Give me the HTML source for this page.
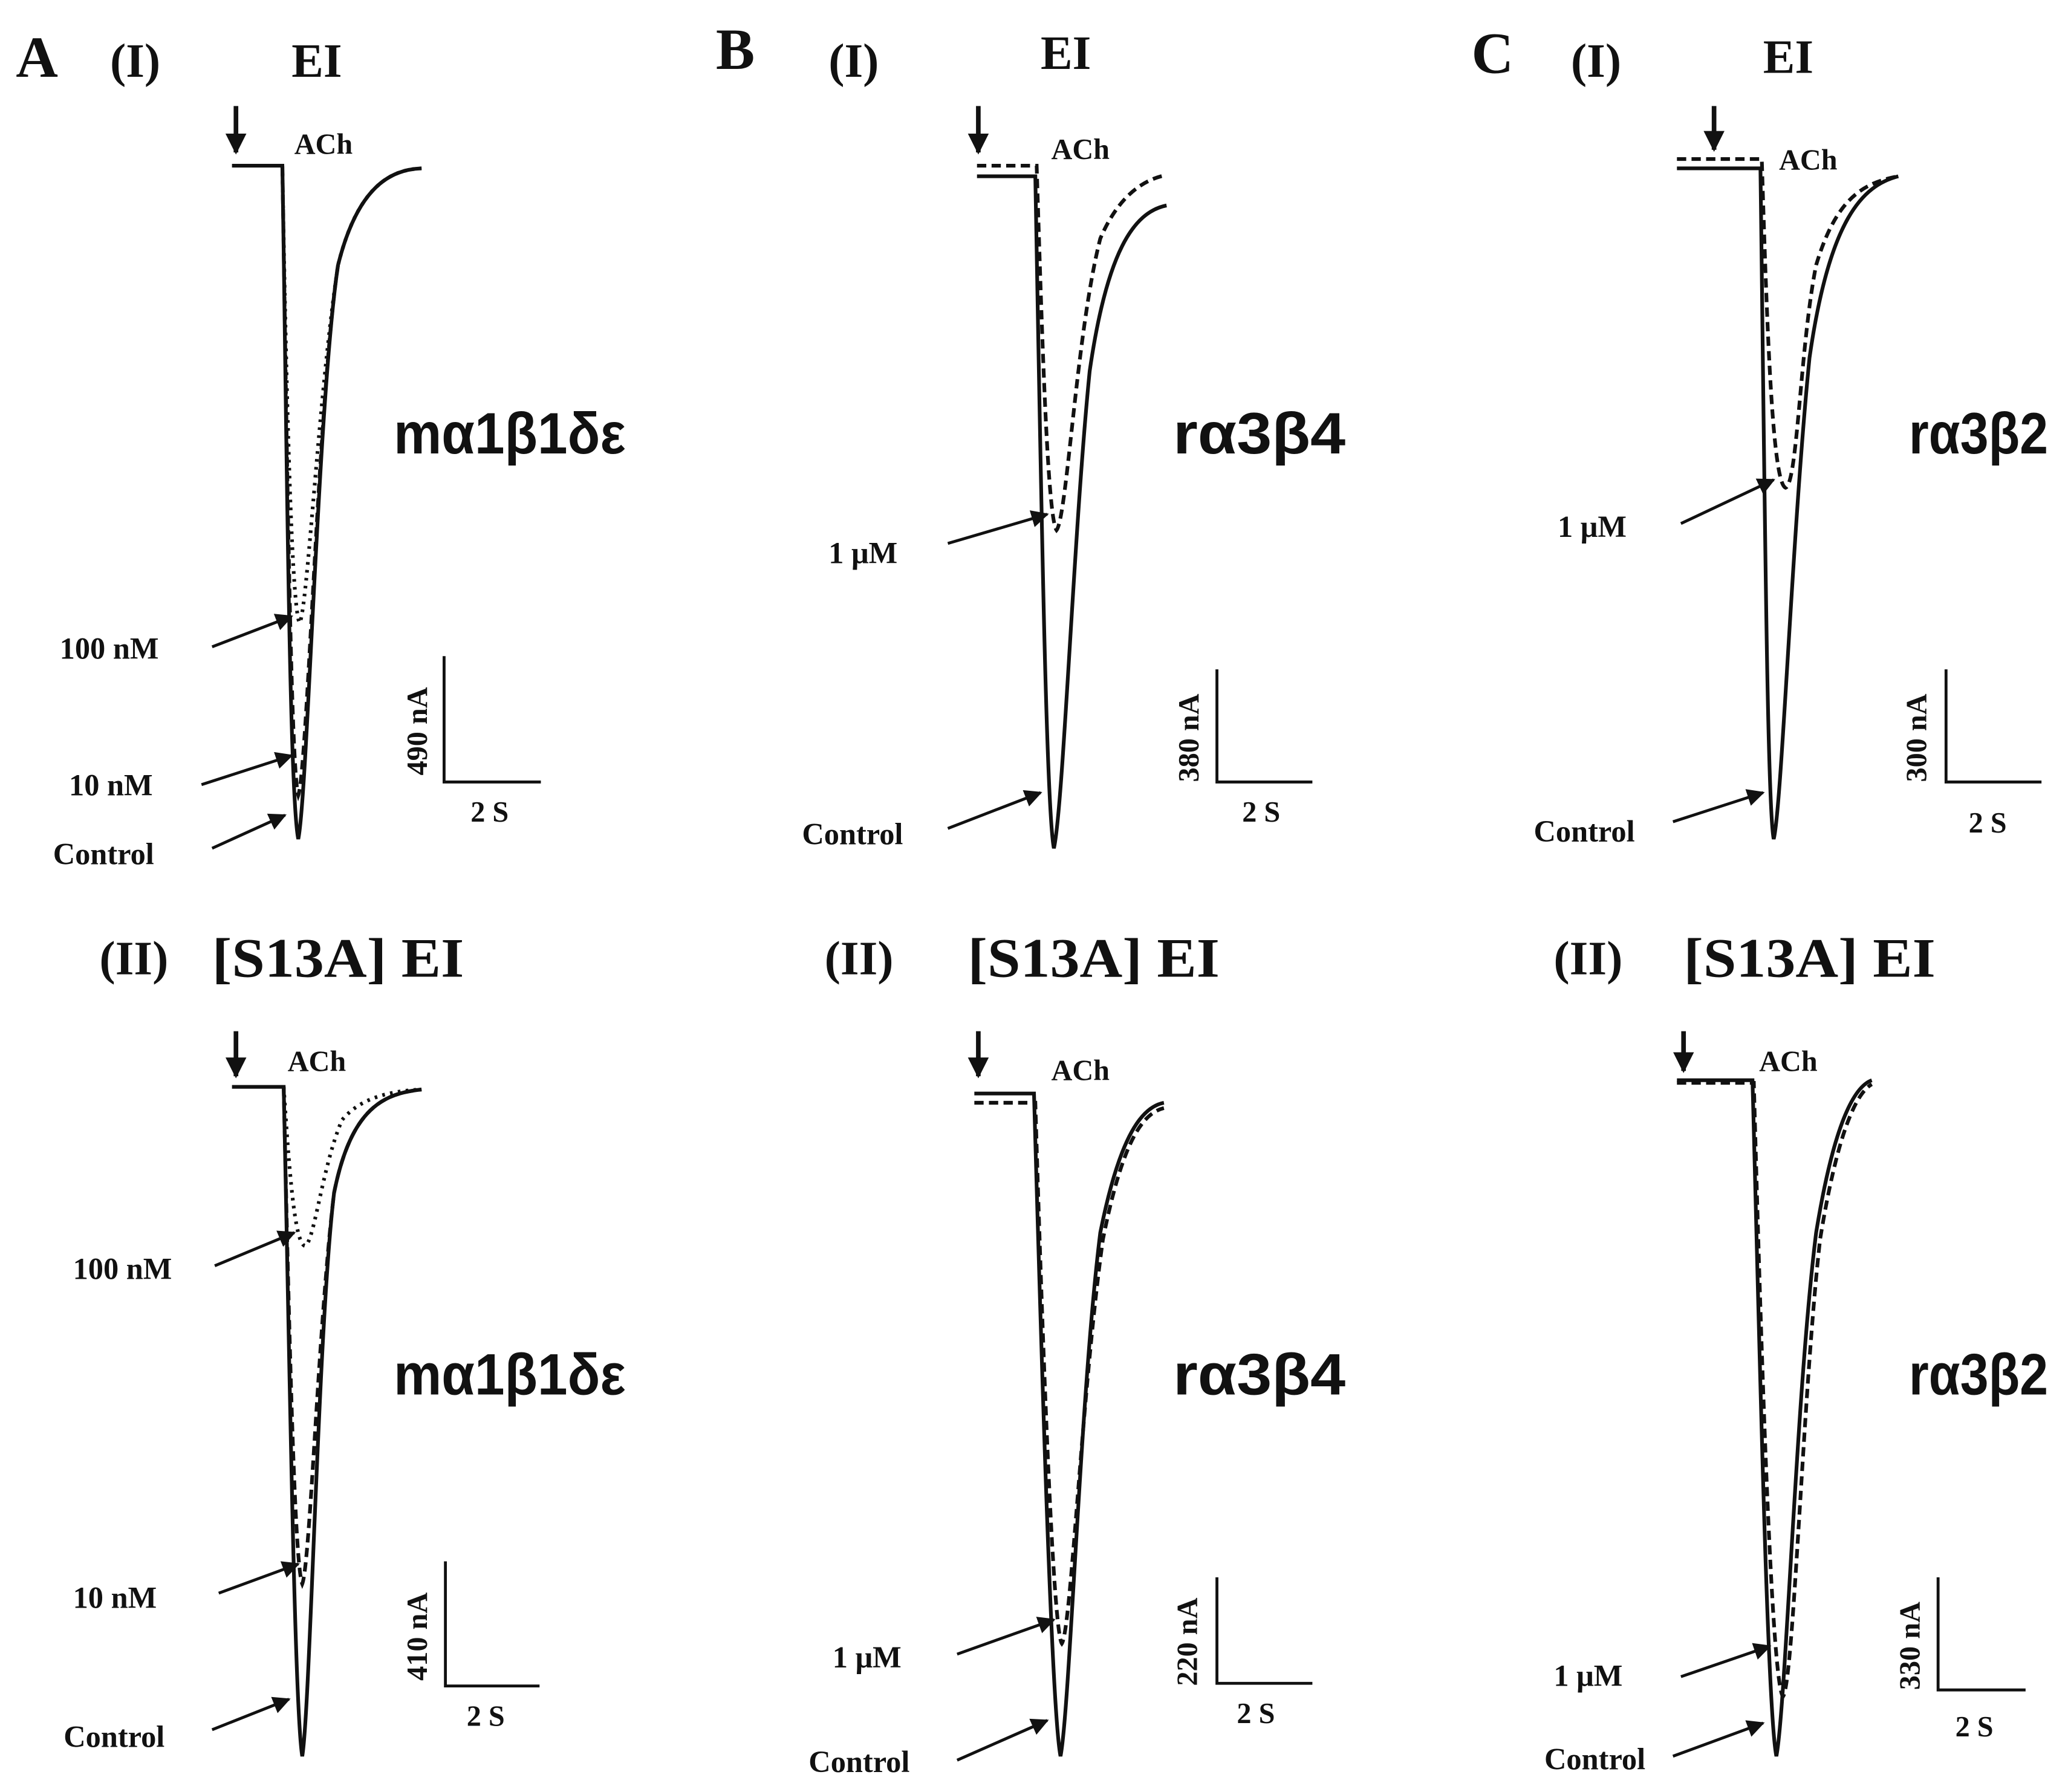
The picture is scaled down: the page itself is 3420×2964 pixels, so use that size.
<!DOCTYPE html>
<html><head><meta charset="utf-8"><style>
html,body{margin:0;padding:0;background:#fff}
svg{display:block}
.s{font-family:"Liberation Serif",serif;font-weight:bold;fill:#111}
.n{font-family:"Liberation Sans",sans-serif;font-weight:bold;fill:#111}
path.t{fill:none;stroke:#111;stroke-width:2.8}
.d{stroke-dasharray:7 4}
.o{stroke-dasharray:2 4}
line{stroke:#111;stroke-width:2.2}
</style></head><body>
<svg width="3420" height="2964" viewBox="0 0 1560 1352" xmlns="http://www.w3.org/2000/svg">
<defs>
<marker id="a" viewBox="0 0 10 10" refX="9" refY="5" markerWidth="6" markerHeight="6" orient="auto"><path d="M0,0 L10,5 L0,10 z" fill="#111"/></marker>
<marker id="b" viewBox="0 0 10 10" refX="9" refY="5" markerWidth="4.5" markerHeight="4.5" orient="auto"><path d="M0,0 L10,5 L0,10 z" fill="#111"/></marker>
</defs>

<!-- Panel A(I) -->
<text class="s" x="12" y="58" font-size="44">A</text>
<text class="s" x="83" y="58" font-size="36">(I)</text>
<text class="s" x="220" y="58" font-size="36">EI</text>
<line x1="178" y1="80" x2="178" y2="115" marker-end="url(#b)" style="stroke-width:3.5"/>
<text class="s" x="222" y="116" font-size="22">ACh</text>
<path class="t" d="M175,125 L213,125 C216,300 218,600 225,633 C232,600 240,300 255,200 C270,140 295,128 318,127"/>
<path class="t o" d="M213,125 C216,300 220,460 226,470 C232,460 240,300 255,200 C270,140 295,128 318,127"/>
<path class="t d" d="M213,125 C216,300 219,580 225,600 C232,580 240,300 255,200"/>
<text class="n" x="297" y="342" font-size="44" textLength="175" lengthAdjust="spacingAndGlyphs">mα1β1δε</text>
<path class="t" d="M335,495 L335,590 L408,590" style="stroke-width:2.2"/>
<text class="s" font-size="22" transform="translate(322,585) rotate(-90)">490 nA</text>
<text class="s" x="355" y="620" font-size="22">2 S</text>
<text class="s" x="45" y="497" font-size="23">100 nM</text>
<line x1="160" y1="488" x2="220" y2="465" marker-end="url(#a)"/>
<text class="s" x="52" y="600" font-size="23">10 nM</text>
<line x1="152" y1="592" x2="220" y2="570" marker-end="url(#a)"/>
<text class="s" x="40" y="652" font-size="23">Control</text>
<line x1="160" y1="640" x2="215" y2="615" marker-end="url(#a)"/>

<!-- Panel B(I) -->
<text class="s" x="540" y="52" font-size="44">B</text>
<text class="s" x="625" y="58" font-size="36">(I)</text>
<text class="s" x="785" y="52" font-size="36">EI</text>
<line x1="738" y1="80" x2="738" y2="115" marker-end="url(#b)" style="stroke-width:3.5"/>
<text class="s" x="793" y="120" font-size="22">ACh</text>
<path class="t" d="M737,133 L781,133 C785,350 789,610 795,640 C802,610 810,400 822,280 C835,190 855,160 880,155"/>
<path class="t d" d="M737,125 L782,125 C786,250 790,390 797,400 C805,390 812,250 830,180 C845,145 865,135 880,132"/>
<text class="n" x="885" y="342" font-size="44" textLength="130" lengthAdjust="spacingAndGlyphs">rα3β4</text>
<path class="t" d="M918,505 L918,590 L990,590" style="stroke-width:2.2"/>
<text class="s" font-size="22" transform="translate(904,590) rotate(-90)">380 nA</text>
<text class="s" x="937" y="620" font-size="22">2 S</text>
<text class="s" x="625" y="425" font-size="23">1 μM</text>
<line x1="715" y1="410" x2="790" y2="388" marker-end="url(#a)"/>
<text class="s" x="605" y="637" font-size="23">Control</text>
<line x1="715" y1="625" x2="785" y2="598" marker-end="url(#a)"/>

<!-- Panel C(I) -->
<text class="s" x="1110" y="55" font-size="44">C</text>
<text class="s" x="1185" y="58" font-size="36">(I)</text>
<text class="s" x="1330" y="55" font-size="36">EI</text>
<line x1="1293" y1="80" x2="1293" y2="113" marker-end="url(#b)" style="stroke-width:3.5"/>
<text class="s" x="1342" y="128" font-size="22">ACh</text>
<path class="t" d="M1265,127 L1328,127 C1331,350 1333,610 1338,633 C1344,610 1352,400 1365,270 C1380,165 1405,140 1432,133"/>
<path class="t d" d="M1265,120 L1329,120 C1333,250 1337,365 1347,368 C1356,365 1358,260 1370,200 C1385,150 1405,138 1432,133"/>
<text class="n" x="1440" y="342" font-size="44" textLength="105" lengthAdjust="spacingAndGlyphs">rα3β2</text>
<path class="t" d="M1468,505 L1468,590 L1540,590" style="stroke-width:2.2"/>
<text class="s" font-size="22" transform="translate(1453,590) rotate(-90)">300 nA</text>
<text class="s" x="1485" y="628" font-size="22">2 S</text>
<text class="s" x="1175" y="405" font-size="23">1 μM</text>
<line x1="1268" y1="395" x2="1338" y2="362" marker-end="url(#a)"/>
<text class="s" x="1157" y="635" font-size="23">Control</text>
<line x1="1262" y1="620" x2="1330" y2="598" marker-end="url(#a)"/>

<!-- Panel A(II) -->
<text class="s" x="75" y="735" font-size="36">(II)</text>
<text class="s" x="160" y="737" font-size="42" textLength="190" lengthAdjust="spacingAndGlyphs">[S13A] EI</text>
<line x1="178" y1="778" x2="178" y2="812" marker-end="url(#b)" style="stroke-width:3.5"/>
<text class="s" x="217" y="808" font-size="22">ACh</text>
<path class="t" d="M175,820 L214,820 C218,1000 222,1290 228,1325 C234,1290 240,1000 252,900 C265,835 290,825 318,822"/>
<path class="t o" d="M214,820 C218,880 222,938 230,940 C237,938 243,880 258,845 C272,828 295,823 318,822"/>
<path class="t d" d="M214,820 C218,1000 222,1180 228,1195 C234,1180 240,1000 252,900 C265,835 290,825 318,822"/>
<text class="n" x="297" y="1052" font-size="44" textLength="175" lengthAdjust="spacingAndGlyphs">mα1β1δε</text>
<path class="t" d="M336,1178 L336,1272 L407,1272" style="stroke-width:2.2"/>
<text class="s" font-size="22" transform="translate(322,1268) rotate(-90)">410 nA</text>
<text class="s" x="352" y="1302" font-size="22">2 S</text>
<text class="s" x="55" y="965" font-size="23">100 nM</text>
<line x1="162" y1="955" x2="222" y2="930" marker-end="url(#a)"/>
<text class="s" x="55" y="1213" font-size="23">10 nM</text>
<line x1="165" y1="1202" x2="225" y2="1180" marker-end="url(#a)"/>
<text class="s" x="48" y="1318" font-size="23">Control</text>
<line x1="160" y1="1305" x2="218" y2="1282" marker-end="url(#a)"/>

<!-- Panel B(II) -->
<text class="s" x="622" y="735" font-size="36">(II)</text>
<text class="s" x="730" y="737" font-size="42" textLength="190" lengthAdjust="spacingAndGlyphs">[S13A] EI</text>
<line x1="738" y1="778" x2="738" y2="812" marker-end="url(#b)" style="stroke-width:3.5"/>
<text class="s" x="793" y="815" font-size="22">ACh</text>
<path class="t" d="M735,825 L780,825 C785,1000 793,1290 800,1325 C807,1290 815,1050 830,930 C845,855 862,835 878,832"/>
<path class="t d" d="M735,832 L781,832 C786,1000 794,1230 801,1240 C808,1230 816,1050 832,935 C847,860 862,840 878,836"/>
<text class="n" x="885" y="1052" font-size="44" textLength="130" lengthAdjust="spacingAndGlyphs">rα3β4</text>
<path class="t" d="M918,1190 L918,1270 L990,1270" style="stroke-width:2.2"/>
<text class="s" font-size="22" transform="translate(903,1272) rotate(-90)">220 nA</text>
<text class="s" x="933" y="1300" font-size="22">2 S</text>
<text class="s" x="628" y="1258" font-size="23">1 μM</text>
<line x1="722" y1="1248" x2="795" y2="1222" marker-end="url(#a)"/>
<text class="s" x="610" y="1337" font-size="23">Control</text>
<line x1="722" y1="1328" x2="790" y2="1298" marker-end="url(#a)"/>

<!-- Panel C(II) -->
<text class="s" x="1172" y="735" font-size="36">(II)</text>
<text class="s" x="1270" y="737" font-size="42" textLength="190" lengthAdjust="spacingAndGlyphs">[S13A] EI</text>
<line x1="1270" y1="778" x2="1270" y2="808" marker-end="url(#b)" style="stroke-width:3.5"/>
<text class="s" x="1327" y="808" font-size="22">ACh</text>
<path class="t" d="M1265,815 L1322,815 C1327,1000 1333,1290 1340,1325 C1347,1290 1355,1050 1370,930 C1383,850 1398,820 1412,815"/>
<path class="t d" d="M1265,817 L1323,817 C1328,1000 1336,1270 1345,1280 C1353,1270 1360,1050 1373,935 C1386,855 1400,825 1412,818"/>
<text class="n" x="1440" y="1052" font-size="44" textLength="105" lengthAdjust="spacingAndGlyphs">rα3β2</text>
<path class="t" d="M1462,1190 L1462,1275 L1528,1275" style="stroke-width:2.2"/>
<text class="s" font-size="22" transform="translate(1448,1275) rotate(-90)">330 nA</text>
<text class="s" x="1475" y="1310" font-size="22">2 S</text>
<text class="s" x="1172" y="1272" font-size="23">1 μM</text>
<line x1="1268" y1="1265" x2="1335" y2="1242" marker-end="url(#a)"/>
<text class="s" x="1165" y="1335" font-size="23">Control</text>
<line x1="1262" y1="1325" x2="1330" y2="1300" marker-end="url(#a)"/>
</svg>
</body></html>
